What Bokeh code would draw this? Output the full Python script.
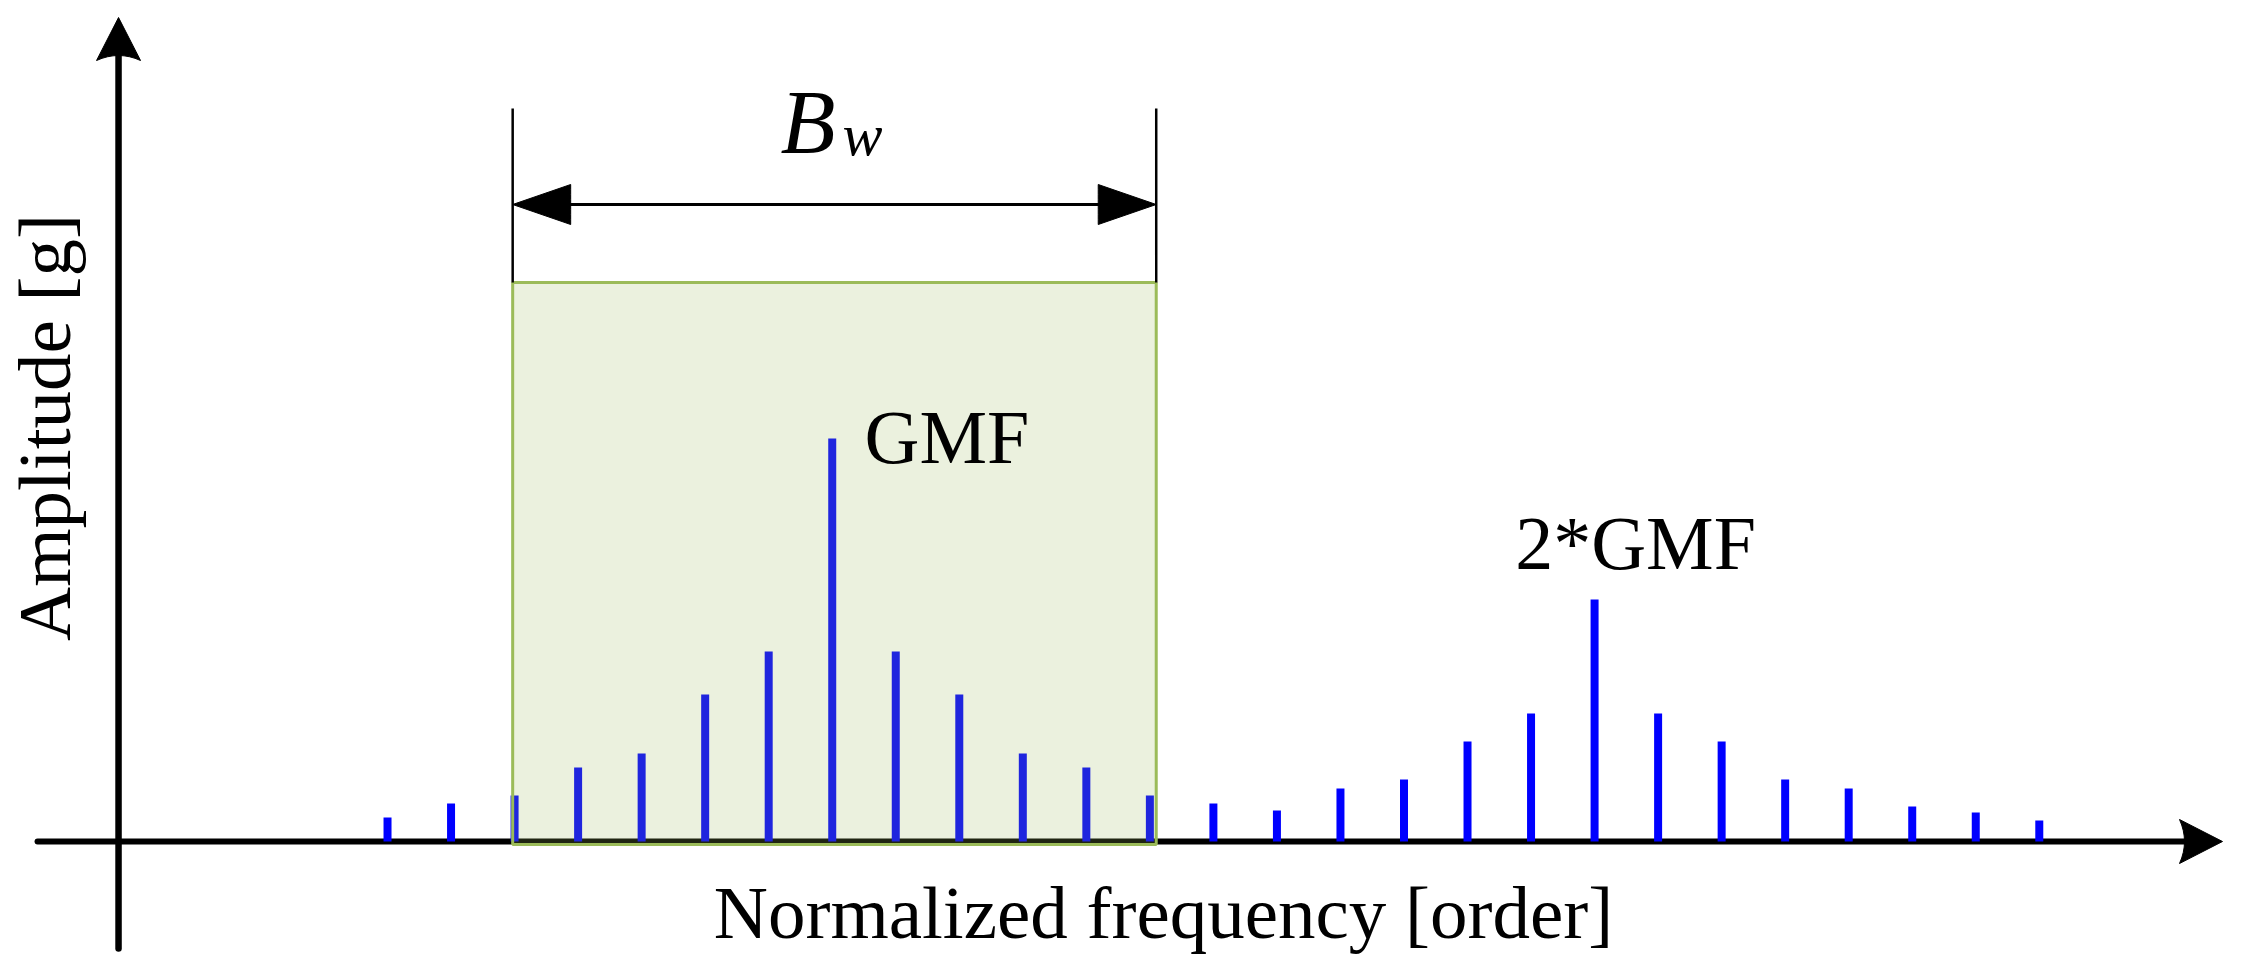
import math
from bokeh.plotting import figure
from bokeh.models import Range1d
from bokeh.core.properties import value
from bokeh.embed import file_html
from bokeh.resources import INLINE

# ---------------- data ----------------
# stem index along the normalized-frequency axis (GMF at 7, 2*GMF at 19)
orders = [0, 1, 2, 3, 4, 5, 6, 7, 8, 9, 10, 11, 12, 13,
          14, 15, 16, 17, 18, 19, 20, 21, 22, 23, 24, 25, 26]
amplitudes = [0.24, 0.38, 0.46, 0.74, 0.88, 1.47, 1.90, 4.03, 1.90, 1.47, 0.88, 0.74, 0.46, 0.38,
              0.31, 0.53, 0.62, 1.00, 1.28, 2.42, 1.28, 1.00, 0.62, 0.53, 0.35, 0.29, 0.21]
band_left, band_right = 1.97, 12.1        # B_w window limits
band_top = 5.59
labels = ["GMF", "2*GMF"]
x_label = "Normalized frequency [order]"
y_label = "Amplitude [g]"

# ---------------- figure ----------------
W, H = 2241, 979
XR = (-6.092, 29.183)
YR = (-1.38, 8.41)
XPX = (XR[1] - XR[0]) / W   # data units per pixel
YPX = (YR[1] - YR[0]) / H

p = figure(width=W, height=H, output_backend="svg", toolbar_location=None,
           x_range=Range1d(*XR), y_range=Range1d(*YR),
           x_axis_location=None, y_axis_location=None, min_border=0)
p.grid.visible = False
p.outline_line_color = None
p.background_fill_color = "white"
p.border_fill_color = "white"

FONT = value("Liberation Serif")
TSHIFT = 30  # px correction for text baseline placement
RSHIFT = 22  # px correction for the rotated label


def head(tx, ty, direction, length, half, notch):
    """Arrow head polygon (pixel sizes) around tip (data), direction 'r','l','u'."""
    pts = [(0.0, 0.0), (-length, half)]
    n = 8
    for i in range(1, n):
        t = i / n
        s = 1 - 2 * t
        pts.append((-length + notch * (1 - s * s), half * s))
    pts.append((-length, -half))
    xs, ys = [], []
    for (a, b) in pts:
        if direction == "r":
            dx, dy = a, b
        elif direction == "l":
            dx, dy = -a, b
        else:  # up
            dx, dy = b, a
        xs.append(tx + dx * XPX)
        ys.append(ty + dy * YPX)
    return xs, ys


# axes
x_axis_y = 0.0
y_axis_x = -4.234
x_tip = 28.884
y_tip = 8.24
p.line([-5.509, x_tip - 30 * XPX], [x_axis_y, x_axis_y], line_color="black",
       line_width=6, line_cap="round")
p.line([y_axis_x, y_axis_x], [-1.07, y_tip - 30 * YPX], line_color="black",
       line_width=6.5, line_cap="round")
hx, hy = head(x_tip, x_axis_y, "r", 43, 22, 5)
p.patch(hx, hy, fill_color="black", line_color="black", line_width=1)
hx, hy = head(y_axis_x, y_tip, "u", 43, 22, 5)
p.patch(hx, hy, fill_color="black", line_color="black", line_width=1)

# stems
p.segment(x0=orders, y0=[0.0] * len(orders), x1=orders, y1=amplitudes,
          line_color="#0000FF", line_width=8, line_cap="butt")

# B_w window
p.quad(left=[band_left], right=[band_right], bottom=[-0.03], top=[band_top],
       fill_color="#9BBB59", fill_alpha=0.2, line_color="#9BBB59", line_width=3)

# dimension lines
dim_top = 7.33
dim_y = 6.37
p.segment(x0=[band_left, band_right], y0=[band_top, band_top],
          x1=[band_left, band_right], y1=[dim_top, dim_top],
          line_color="black", line_width=2.5)
p.line([band_left + 50 * XPX, band_right - 50 * XPX], [dim_y, dim_y],
       line_color="black", line_width=3)
hx, hy = head(band_left, dim_y, "l", 58, 20, 0)
p.patch(hx, hy, fill_color="black", line_color="black", line_width=1)
hx, hy = head(band_right, dim_y, "r", 58, 20, 0)
p.patch(hx, hy, fill_color="black", line_color="black", line_width=1)

# texts
dy = TSHIFT * YPX
p.text(x=[6.186], y=[6.89 + dy], text=["B"], text_font=FONT, text_font_size="90px",
       text_font_style="italic", text_align="left", text_baseline="alphabetic",
       text_color="black")
p.text(x=[7.162], y=[6.77 + dy], text=["w"], text_font=FONT, text_font_size="60px",
       text_font_style="italic", text_align="left", text_baseline="alphabetic",
       text_color="black")
p.text(x=[7.508], y=[3.75 + dy], text=[labels[0]], text_font=FONT, text_font_size="76px",
       text_align="left", text_baseline="alphabetic", text_color="black")
p.text(x=[19.645], y=[2.69 + dy], text=[labels[1]], text_font=FONT, text_font_size="76px",
       text_align="center", text_baseline="alphabetic", text_color="black")
p.text(x=[12.215], y=[-1.01 + dy], text=[x_label], text_font=FONT, text_font_size="75px",
       text_align="center", text_baseline="alphabetic", text_color="black")
p.text(x=[-5.053 - RSHIFT * XPX], y=[4.14], text=[y_label], text_font=FONT,
       text_font_size="75px", text_align="center", text_baseline="alphabetic",
       text_color="black", angle=math.pi / 2)

open("out.html", "w").write(file_html(p, INLINE))
